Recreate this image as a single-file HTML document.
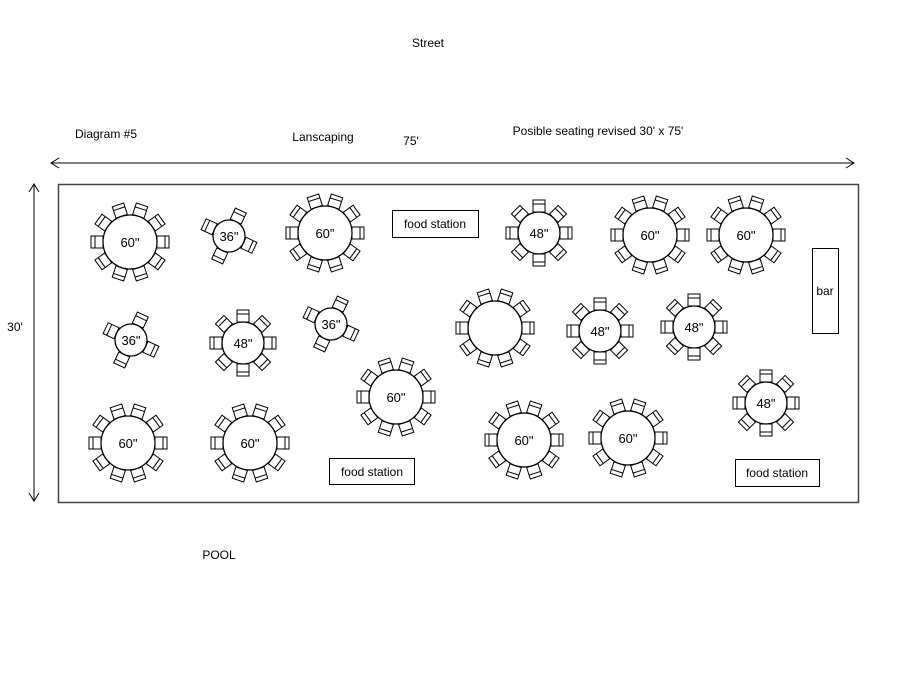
<!DOCTYPE html>
<html><head><meta charset="utf-8"><style>
body{margin:0;background:#fff;}
svg{display:block;font-family:"Liberation Sans",sans-serif;}
</style></head><body>
<svg id="s" width="917" height="687" viewBox="0 0 917 687" xmlns="http://www.w3.org/2000/svg">
<rect width="917" height="687" fill="#fff"/>
<g font-size="12" fill="#000">
<text x="428" y="47" text-anchor="middle">Street</text>
<text x="106" y="138" text-anchor="middle">Diagram #5</text>
<text x="323" y="141" text-anchor="middle">Lanscaping</text>
<text x="411" y="145" text-anchor="middle">75'</text>
<text x="598" y="135" text-anchor="middle">Posible seating revised 30' x 75'</text>
<text x="15" y="331" text-anchor="middle">30'</text>
<text x="219" y="559" text-anchor="middle">POOL</text>
</g>
<g stroke="#000" fill="none" stroke-width="1">
<line x1="51" y1="163" x2="854" y2="163"/>
<polyline points="59,158 51,163 59,168"/>
<polyline points="846,158 854,163 846,168"/>
<line x1="34" y1="184" x2="34" y2="501"/>
<polyline points="29,192 34,184 39,192"/>
<polyline points="29,493 34,501 39,493"/>
<rect x="58.5" y="184.5" width="800" height="318" stroke="#444" stroke-width="1.5"/>
<rect x="392.5" y="210.5" width="86" height="27"/>
<rect x="812.5" y="248.5" width="26" height="85"/>
<rect x="329.5" y="458.5" width="85" height="26"/>
<rect x="735.5" y="459.5" width="84" height="27"/>
</g>
<g font-size="12" text-anchor="middle">
<text x="435" y="228">food station</text>
<text x="825" y="295">bar</text>
<text x="372" y="476">food station</text>
<text x="777" y="477">food station</text>
</g>
<g id="t"></g>
</svg>
<script>
var T=[
[130,242,60,""],[229,236,36,""],[325,233,60,""],[539,233,48,""],[650,235,60,""],[746,235,60,""],
[131,340,36,""],[243,343,48,""],[331,324,36,""],[495,328,60,"x"],[600,331,48,""],[694,327,48,""],
[396,397,60,""],[766,403,48,""],
[128,443,60,""],[250,443,60,""],[524,440,60,""],[628,438,60,""]
];
var g=document.getElementById('t'),h='';
T.forEach(function(t){
 var x=t[0],y=t[1],s=t[2],r,angs=[];
 if(s==60){r=27;for(var i=0;i<10;i++)angs.push(i*36);}
 else if(s==48){r=21;for(var i=0;i<8;i++)angs.push(i*45);}
 else{r=16;angs=[-65,25,115,205];}
 angs.forEach(function(a){
  h+='<g transform="translate('+x+','+y+') rotate('+a+')" stroke="#000" fill="#fff" stroke-width="1">'+
   '<rect x="'+(r)+'" y="-6" width="12" height="12"/>'+
   '<line x1="'+(r+8)+'" y1="-6" x2="'+(r+8)+'" y2="6"/></g>';
 });
 h+='<circle cx="'+x+'" cy="'+y+'" r="'+r+'" fill="#fff" stroke="#000" stroke-width="1.3"/>';
 if(t[3]!="x")h+='<text x="'+x+'" y="'+(y+5)+'" font-size="13" text-anchor="middle">'+s+'"</text>';
});
g.innerHTML=h;
</script>
</body></html>
